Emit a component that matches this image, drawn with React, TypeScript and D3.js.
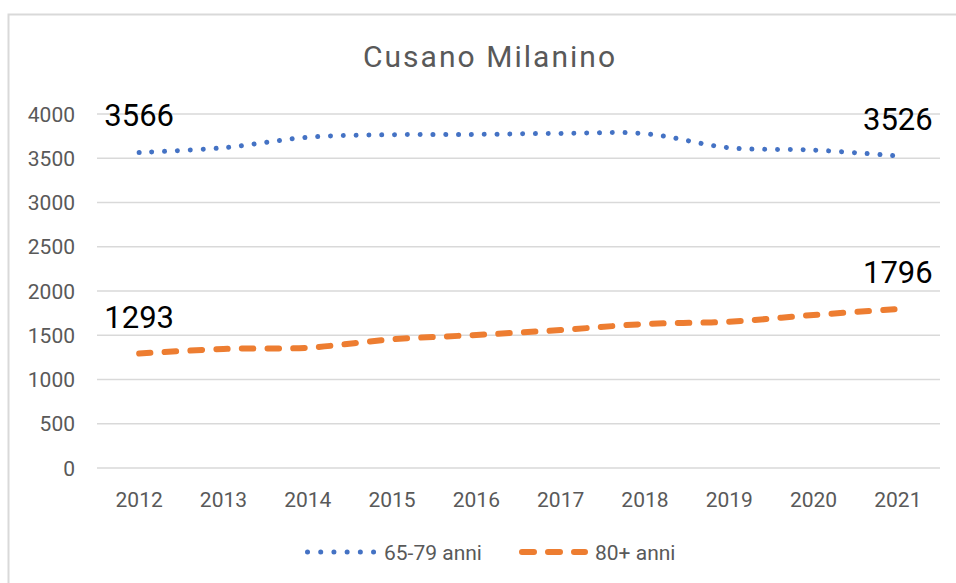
import React from 'react'
import * as d3 from 'd3'

const years = ['2012', '2013', '2014', '2015', '2016', '2017', '2018', '2019', '2020', '2021']
const seniors = [3566, 3619, 3737, 3766, 3770, 3781, 3778, 3619, 3593, 3526]
const elderly = [1293, 1345, 1359, 1454, 1503, 1559, 1627, 1653, 1729, 1796]
const yTicks = [0, 500, 1000, 1500, 2000, 2500, 3000, 3500, 4000]
const seriesNames = ['65-79 anni', '80+ anni']

const W = 956
const H = 583
const FONT = 'Roboto, "Noto Sans", sans-serif'
const GREY = '#595959'
const GRID = '#d9d9d9'
const BLUE = '#4472c4'
const ORANGE = '#ed7d31'

export default function App() {
  const x = d3.scalePoint<string>().domain(years).range([97, 940]).padding(0.5)
  const y = d3.scaleLinear().domain([0, 4000]).range([468, 114])

  const line = d3.line<number>()
    .x((d, i) => x(years[i]) as number)
    .y(d => y(d))
    .curve(d3.curveCatmullRom.alpha(0.5))

  // only first and last point get a label, like the original
  const labelIdx = [0, years.length - 1]

  return (
    <svg width={W} height={H} style={{position: 'absolute', left: 0, top: 0, background: '#fff'}}>
      <rect x={8.5} y={14.5} width={W} height={H} fill="#fff" stroke={GRID} strokeWidth={2} />

      <text x={489} y={67} textAnchor="middle" fontFamily={FONT} fontSize={30} fill={GREY}
        textLength={252} lengthAdjust="spacing">Cusano Milanino</text>

      {yTicks.map(t => (
        <g key={t}>
          <line x1={97} x2={940} y1={y(t)} y2={y(t)} stroke={GRID} strokeWidth={1.5} />
          <text x={75} y={y(t)} dy="0.36em" textAnchor="end" fontFamily={FONT} fontSize={21} fill={GREY}>{t}</text>
        </g>
      ))}

      {years.map(yr => (
        <text key={yr} x={x(yr)} y={507} textAnchor="middle" fontFamily={FONT} fontSize={21} fill={GREY}>{yr}</text>
      ))}

      <path d={line(seniors) || ''} fill="none" stroke={BLUE} strokeWidth={5}
        strokeLinecap="round" strokeDasharray="0.01 12.8" />
      <path d={line(elderly) || ''} fill="none" stroke={ORANGE} strokeWidth={6}
        strokeLinecap="round" strokeDasharray="11.5 14.2" />

      {labelIdx.map(i => (
        <g key={i}>
          <text x={x(years[i])} y={y(seniors[i]) - 26} textAnchor="middle" fontFamily={FONT} fontSize={31} fill="#000">{seniors[i]}</text>
          <text x={x(years[i])} y={y(elderly[i]) - 26} textAnchor="middle" fontFamily={FONT} fontSize={31} fill="#000">{elderly[i]}</text>
        </g>
      ))}

      {/* legend */}
      <line x1={307.5} x2={374} y1={552} y2={552} stroke={BLUE} strokeWidth={5}
        strokeLinecap="round" strokeDasharray="0.01 13.2" />
      <text x={384} y={552} dy="0.36em" fontFamily={FONT} fontSize={21} fill={GREY}>{seriesNames[0]}</text>
      <line x1={522} x2={585} y1={552} y2={552} stroke={ORANGE} strokeWidth={6}
        strokeLinecap="round" strokeDasharray="12 14" />
      <text x={595} y={552} dy="0.36em" fontFamily={FONT} fontSize={21} fill={GREY}>{seriesNames[1]}</text>
    </svg>
  )
}
